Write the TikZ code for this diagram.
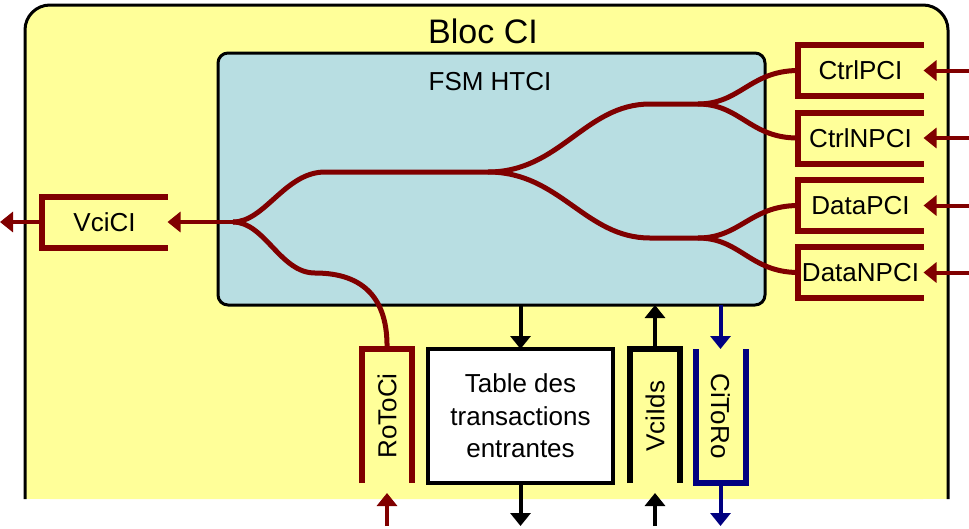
\documentclass[tikz,border=0pt]{standalone}
\usepackage{fontspec}
\setmainfont{Liberation Sans}
\usepackage{graphicx}
\usetikzlibrary{arrows.meta,positioning}
\definecolor{blocfill}{RGB}{255,255,153}
\definecolor{fsmfill}{RGB}{184,222,226}
\definecolor{lienrouge}{RGB}{128,0,0}
\definecolor{lienbleu}{RGB}{0,0,128}
\begin{document}
\begin{tikzpicture}[x=1pt,y=-1pt,>={Triangle[length=13pt,width=20pt]},
  every node/.style={font=\fontsize{26}{32.5}\selectfont,inner sep=0pt,outer sep=0pt},
  fifo/.style={minimum width=126pt,minimum height=51pt},
  fifov/.style={minimum width=50pt,minimum height=134pt},
  bord/.style={line width=6pt},
  fil/.style={line width=5pt,lienrouge},
  fleche/.style={line width=4pt,->}]
  \useasboundingbox (0,0) rectangle (969,528);
  \coordinate (edgeL) at (0,0);
  \coordinate (edgeR) at (969,0);
  \coordinate (bas) at (0,526);
  % bloc CI
  \fill[blocfill,rounded corners=25pt] (25,5) rectangle (948,499);
  \fill[blocfill] (25,460) rectangle (948,499);
  \draw[line width=3pt] (25,499) [rounded corners=25pt] |- (486,5) -| (948,499);
  \node (titre) [font=\fontsize{34}{40}\selectfont] at (483,31.5) {Bloc CI};
  % FSM
  \node (fsm) [draw,line width=3pt,fill=fsmfill,rounded corners=10pt,minimum width=547pt,minimum height=252pt] at (491.5,179) {};
  \node (fsmlbl) at (490,82) {FSM HTCI};
  % files
  \node (ctrlp) [fifo] at (860.5,70.5) {CtrlPCI};
  \node (ctrlnp) [fifo] at (860.5,138) {CtrlNPCI};
  \node (datap) [fifo] at (860.5,205.5) {DataPCI};
  \node (datanp) [fifo] at (860.5,272.5) {DataNPCI};
  \node (vci) [fifo] at (104.5,222) {VciCI};
  \node (rotoci) [fifov] at (387,416) {\rotatebox{90}{RoToCi}};
  \node (table) [draw,line width=4pt,fill=white,minimum width=185pt,minimum height=134pt,align=center] at (520.5,416) {Table des\\transactions\\entrantes};
  \node (vciids) [fifov] at (655,416) {\rotatebox{90}{VciIds}};
  \node (citoro) [fifov] at (720.5,416) {\rotatebox{-90}{CiToRo}};
  \foreach \q in {ctrlp,ctrlnp,datap,datanp,vci}
    \draw[bord,lienrouge] (\q.north east) -- (\q.north west) -- (\q.south west) -- (\q.south east);
  \draw[bord,lienrouge] (rotoci.south west) -- (rotoci.north west) -- (rotoci.north east) -- (rotoci.south east);
  \draw[bord] (vciids.south west) -- (vciids.north west) -- (vciids.north east) -- (vciids.south east);
  \draw[bord,lienbleu] (citoro.north west) -- (citoro.south west) -- (citoro.south east) -- (citoro.north east);
  % aiguillage
  \coordinate (J0) at (233,222);
  \coordinate (J1) at (488,172);
  \coordinate (J2) at (698,104);
  \coordinate (J3) at (698,238);
  \draw[fil] (J0) .. controls (265,222) and (285,172) .. (325,172) -- (J1);
  \draw[fil] (J1) .. controls (560,172) and (585,104) .. (650,104) -- (J2);
  \draw[fil] (J1) .. controls (560,172) and (585,238) .. (650,238) -- (J3);
  \draw[fil] (J2) .. controls (740,104) and (750,71) .. (ctrlp.west);
  \draw[fil] (J2) .. controls (740,104) and (750,138) .. (ctrlnp.west);
  \draw[fil] (J3) .. controls (740,238) and (750,206) .. (datap.west);
  \draw[fil] (J3) .. controls (740,238) and (750,272) .. (datanp.west);
  \draw[fil] (J0) .. controls (265,222) and (280,273) .. (315,273) .. controls (365,273) and (388,300) .. (rotoci.north);
  % fleches
  \draw[fleche,lienrouge] (J0) -- (vci.east);
  \draw[fleche,lienrouge] (vci.west) -- (vci.west -| edgeL);
  \foreach \q in {ctrlp,ctrlnp,datap,datanp}
    \draw[fleche,lienrouge] (\q.east -| edgeR) -- (\q.east);
  \draw[fleche,lienrouge,shorten >=10pt] (rotoci.south |- bas) -- (rotoci.south);
  \draw[fleche] (fsm.south -| table.north) -- (table.north);
  \draw[fleche] (table.south) -- (table.south |- bas);
  \draw[fleche] (vciids.north) -- (vciids.north |- fsm.south);
  \draw[fleche,shorten >=10pt] (vciids.south |- bas) -- (vciids.south);
  \draw[fleche,lienbleu] (citoro.north |- fsm.south) -- (citoro.north);
  \draw[fleche,lienbleu] (citoro.south) -- (citoro.south |- bas);
\end{tikzpicture}
\end{document}
